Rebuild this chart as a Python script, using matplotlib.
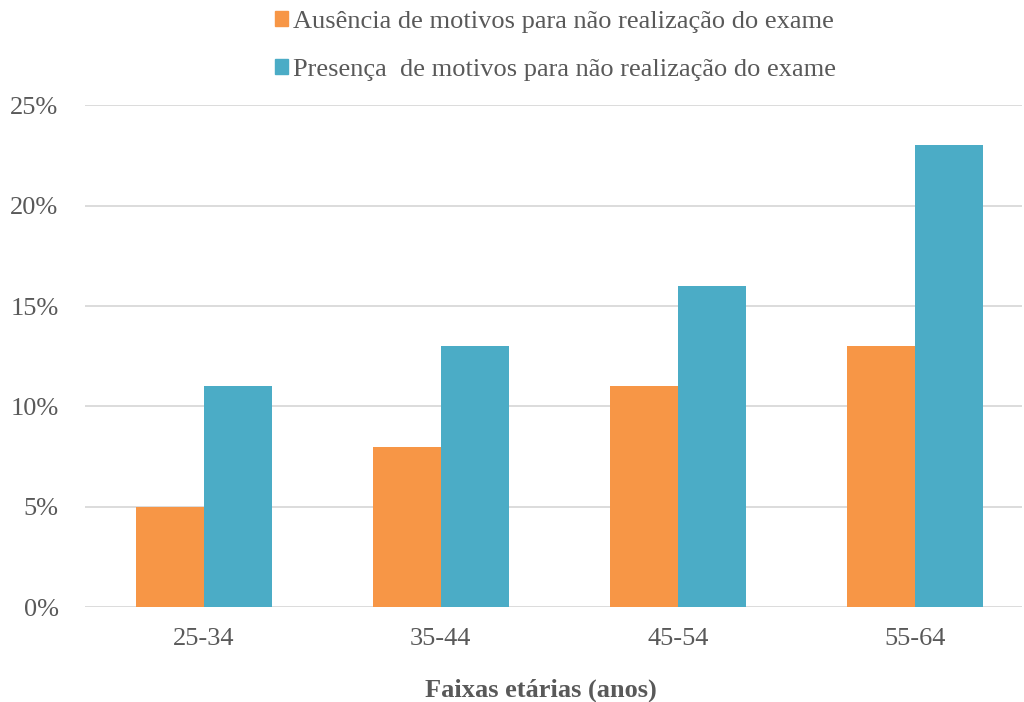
import numpy as np
import matplotlib
matplotlib.use("Agg")
import matplotlib.pyplot as plt
from matplotlib.patches import Patch

plt.rcParams['font.family'] = ['Liberation Serif', 'DejaVu Serif']

categorias = ["25-34", "35-44", "45-54", "55-64"]
ausencia = [5, 8, 11, 13]
presenca = [11, 13, 16, 23]
rotulos = ["Ausência de motivos para não realização do exame",
           "Presença  de motivos para não realização do exame"]
cor_laranja = "#F79646"
cor_azul = "#4BACC6"
cinza = "#595959"

fig = plt.figure(figsize=(10.24, 7.02), dpi=100)
ax = fig.add_axes([0.083, 0.135, 0.915, 0.715])

x = np.arange(len(categorias))
w = 0.287
ax.bar(x - w / 2, ausencia, w, color=cor_laranja, zorder=3)
ax.bar(x + w / 2, presenca, w, color=cor_azul, zorder=3)

ax.set_xlim(-0.5, 3.45)
ax.set_ylim(0, 25)
ax.set_yticks(range(0, 26, 5))
ax.set_yticklabels([f"{v}%" for v in range(0, 26, 5)])
ax.set_xticks(x)
ax.set_xticklabels(categorias)
ax.yaxis.grid(True, color="#D9D9D9", linewidth=1.3, zorder=0)
for s in ax.spines.values():
    s.set_visible(False)
ax.tick_params(axis="both", length=0, labelsize=19, colors=cinza)
ax.tick_params(axis="y", pad=19)
ax.tick_params(axis="x", pad=15)

fig.text(0.528, 0.017, "Faixas etárias (anos)", ha="center", va="center",
         fontsize=19, fontweight="bold", color=cinza)

handles = [Patch(color=cor_laranja), Patch(color=cor_azul)]
fig.legend(handles, rotulos, loc="upper left", bbox_to_anchor=(0.245, 1.018),
           frameon=False, fontsize=19, labelcolor=cinza, handlelength=0.5,
           handleheight=0.5, handletextpad=0.2, labelspacing=0.97)

fig.savefig("out.png", dpi=100)
